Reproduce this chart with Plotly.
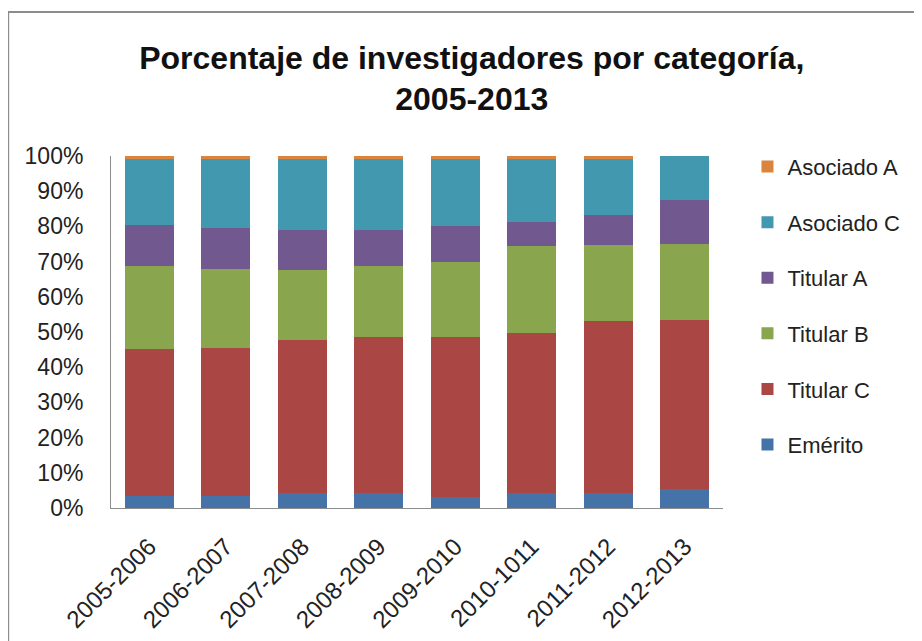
import plotly.graph_objects as go

# Datos (% de investigadores por categoría)
periodos = ['2005-2006', '2006-2007', '2007-2008', '2008-2009',
            '2009-2010', '2010-1011', '2011-2012', '2012-2013']

emerito = [3.4, 3.4, 4.4, 4.4, 3.2, 4.4, 4.4, 5.3]
titular_c = [41.7, 42.1, 43.3, 44.3, 45.5, 45.4, 48.6, 48.1]
titular_b = [23.6, 22.5, 19.9, 20.0, 21.2, 24.6, 21.6, 21.5]
titular_a = [11.7, 11.6, 11.4, 10.3, 10.2, 6.9, 8.7, 12.6]
asociado_c = [18.7, 19.5, 20.1, 20.1, 19.0, 17.8, 15.8, 12.5]
asociado_a = [0.9, 0.9, 0.9, 0.9, 0.9, 0.9, 0.9, 0.0]

series = [
    ('Emérito', emerito, '#4572A7'),
    ('Titular C', titular_c, '#AA4643'),
    ('Titular B', titular_b, '#89A54E'),
    ('Titular A', titular_a, '#71588F'),
    ('Asociado C', asociado_c, '#4198AF'),
    ('Asociado A', asociado_a, '#DB843D'),
]

fig = go.Figure()
for i, (nombre, valores, color) in enumerate(series):
    fig.add_trace(go.Bar(
        x=periodos,
        y=valores,
        name=nombre,
        legendgroup=nombre,
        legendrank=len(series) - i,  # Asociado A arriba en la leyenda
        marker=dict(color=color, line=dict(width=0))
    ))

fuente = 'Liberation Sans, Arial, sans-serif'

# la página tiene un margen de 8px en el body, se compensa aquí
fig.update_layout(
    barmode='stack',
    bargap=0.36,
    width=922,
    height=641,
    margin=dict(l=103, r=207, t=148, b=141),
    paper_bgcolor='white',
    plot_bgcolor='white',
    font=dict(family=fuente, size=22, color='#222222'),
    title=dict(
        text='<b>Porcentaje de investigadores por categoría,</b><br><b>2005-2013</b>',
        x=0.503, xanchor='center',
        y=0.905, yanchor='middle',
        font=dict(family=fuente, size=32, color='#111111')
    ),
    legend=dict(
        x=1.04, xanchor='left',
        y=0.12, yanchor='bottom',
        traceorder='grouped',
        tracegroupgap=24,
        font=dict(size=22, color='#222222'),
        bgcolor='rgba(0,0,0,0)'
    ),
    showlegend=True
)

fig.update_yaxes(
    range=[0, 100],
    dtick=10,
    ticksuffix='%',
    showgrid=False,
    zeroline=False,
    showline=True,
    linecolor='#8c8c8c',
    linewidth=1,
    ticks='',
    ticklabelstandoff=22,
    tickfont=dict(size=23)
)

fig.update_xaxes(
    tickangle=-45,
    showgrid=False,
    showline=True,
    linecolor='#8c8c8c',
    linewidth=1,
    ticks='',
    ticklabelstandoff=14,
    tickfont=dict(size=24)
)

# Borde del área del gráfico
fig.add_shape(
    type='rect', xref='paper', yref='paper',
    x0=-0.168, x1=1.35, y0=-0.45, y1=1.409,
    line=dict(color='#8c8c8c', width=2),
    fillcolor='rgba(0,0,0,0)', layer='below'
)

fig.write_html("out.html")
